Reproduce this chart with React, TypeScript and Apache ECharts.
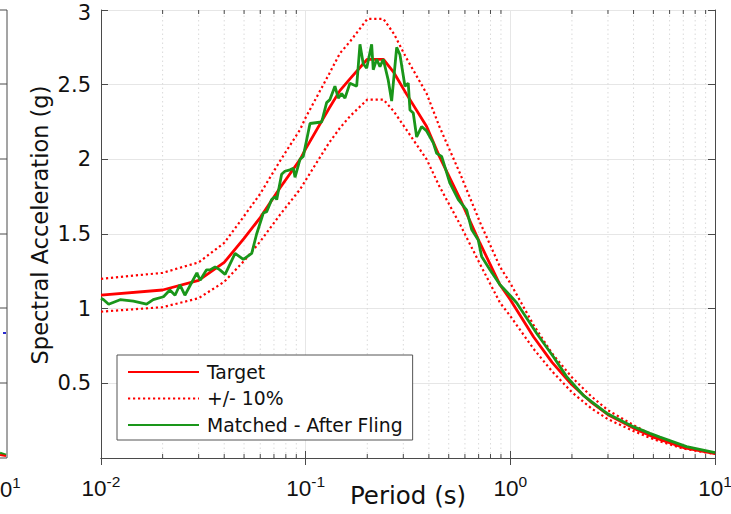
import React, { useEffect, useRef } from 'react';
import * as echarts from 'echarts';

// Target spectrum (period s, spectral acceleration g)
const targetPeriods = [0.01, 0.02, 0.03, 0.04, 0.05, 0.06, 0.075, 0.094, 0.1, 0.13, 0.147, 0.165, 0.2, 0.24, 0.27, 0.31, 0.39, 0.45, 0.57, 0.71, 0.89, 1.0, 1.3, 1.6, 2.0, 2.5, 3.0, 4.0, 5.0, 7.0, 10.0];
const targetValues = [1.09, 1.125, 1.19, 1.31, 1.47, 1.61, 1.81, 2.0, 2.07, 2.34, 2.46, 2.54, 2.67, 2.67, 2.58, 2.44, 2.22, 2.02, 1.73, 1.44, 1.16, 1.06, 0.81, 0.64, 0.49, 0.37, 0.29, 0.2, 0.14, 0.07, 0.03];
const upperValues = [1.2, 1.24, 1.31, 1.44, 1.62, 1.77, 1.99, 2.2, 2.28, 2.57, 2.71, 2.79, 2.94, 2.94, 2.84, 2.68, 2.44, 2.22, 1.9, 1.58, 1.28, 1.17, 0.89, 0.7, 0.54, 0.41, 0.32, 0.22, 0.15, 0.077, 0.033];
const lowerValues = [0.98, 1.01, 1.07, 1.18, 1.32, 1.45, 1.63, 1.8, 1.86, 2.11, 2.21, 2.29, 2.4, 2.4, 2.32, 2.2, 2.0, 1.82, 1.56, 1.3, 1.04, 0.95, 0.73, 0.58, 0.44, 0.33, 0.26, 0.18, 0.126, 0.063, 0.027];

// Matched - After Fling
const matchedPeriods = [0.01, 0.0103, 0.0109, 0.0124, 0.0144, 0.0167, 0.018, 0.0202, 0.0217, 0.023, 0.0243, 0.0257, 0.0294, 0.0305, 0.0328, 0.0341, 0.0361, 0.0381, 0.0404, 0.0452, 0.0496, 0.0545, 0.0576, 0.0621, 0.0645, 0.0682, 0.0708, 0.0722, 0.0763, 0.0792, 0.0838, 0.087, 0.0887, 0.0938, 0.0973, 0.1011, 0.105, 0.1197, 0.1266, 0.1314, 0.139, 0.1443, 0.1499, 0.1556, 0.1646, 0.1775, 0.1842, 0.1911, 0.1986, 0.2101, 0.2139, 0.2223, 0.2307, 0.2394, 0.2532, 0.2631, 0.2784, 0.2889, 0.3056, 0.3171, 0.3233, 0.3355, 0.3486, 0.3687, 0.39, 0.4202, 0.4365, 0.4617, 0.507, 0.557, 0.612, 0.647, 0.697, 0.724, 0.795, 0.89, 0.995, 1.073, 1.344, 1.62, 1.884, 2.271, 2.955, 3.985, 4.808, 5.38, 7.265, 10.0];
const matchedValues = [1.07, 1.06, 1.03, 1.06, 1.05, 1.03, 1.06, 1.08, 1.125, 1.09, 1.16, 1.09, 1.24, 1.19, 1.26, 1.26, 1.28, 1.26, 1.23, 1.37, 1.33, 1.37, 1.5, 1.64, 1.65, 1.73, 1.75, 1.73, 1.9, 1.92, 1.93, 1.94, 1.88, 2.0, 2.02, 2.13, 2.24, 2.25, 2.38, 2.4, 2.49, 2.41, 2.44, 2.41, 2.51, 2.49, 2.77, 2.64, 2.61, 2.77, 2.6, 2.67, 2.62, 2.67, 2.53, 2.39, 2.75, 2.7, 2.49, 2.51, 2.33, 2.31, 2.15, 2.22, 2.19, 2.11, 2.04, 2.02, 1.84, 1.73, 1.66, 1.53, 1.46, 1.35, 1.26, 1.16, 1.09, 1.04, 0.835, 0.68, 0.545, 0.42, 0.3, 0.21, 0.165, 0.14, 0.076, 0.036];

const minorPeriods = [0.02, 0.03, 0.04, 0.05, 0.06, 0.07, 0.08, 0.09, 0.2, 0.3, 0.4, 0.5, 0.6, 0.7, 0.8, 0.9, 2, 3, 4, 5, 6, 7, 8, 9];
const yTickValues = [0, 0.5, 1, 1.5, 2, 2.5, 3];
const xDecadeExponents = [-2, -1, 0, 1];

const FONT = '"Liberation Sans", Arial, Helvetica, sans-serif';
const WIDE = '"DejaVu Sans", Verdana, sans-serif';
const AXIS_COLOR = '#4a4a4a';
const GRID_COLOR = '#e6e6e6';

export default function App() {
  const ref = useRef<HTMLDivElement>(null);

  useEffect(() => {
    if (!ref.current) return;
    const chart = echarts.init(ref.current, null, { renderer: 'svg' });

    const xMin = Math.pow(10, xDecadeExponents[0]);
    const xMax = Math.pow(10, xDecadeExponents[xDecadeExponents.length - 1]);
    const yMin = yTickValues[0];
    const yMax = yTickValues[yTickValues.length - 1];

    const xLabelFormatter = (v: number) => {
      const e = Math.round(Math.log10(v));
      return `{b|10}{s|${e}}`;
    };

    // Left neighbour panel fragment (cropped)
    const leftPanel: any[] = [
      { type: 'line', shape: { x1: 7, y1: 10, x2: 7, y2: 458 }, style: { stroke: AXIS_COLOR, lineWidth: 1 } },
      { type: 'line', shape: { x1: 0, y1: 10, x2: 7, y2: 10 }, style: { stroke: AXIS_COLOR, lineWidth: 1 } },
      { type: 'line', shape: { x1: 0, y1: 458, x2: 7, y2: 458 }, style: { stroke: AXIS_COLOR, lineWidth: 1 } },
      ...[84, 159, 234, 308, 383].map((y) => ({
        type: 'line', shape: { x1: 0, y1: y, x2: 7, y2: y }, style: { stroke: AXIS_COLOR, lineWidth: 1 },
      })),
      { type: 'rect', shape: { x: 3, y: 332, width: 3, height: 2 }, style: { fill: '#2a2ad0' } },
      { type: 'line', shape: { x1: 0, y1: 453, x2: 6, y2: 455 }, style: { stroke: '#1a961a', lineWidth: 2.5 } },
      { type: 'line', shape: { x1: 0, y1: 455, x2: 6, y2: 456 }, style: { stroke: '#ff0000', lineWidth: 2 } },
      {
        type: 'text', x: 0, y: 489,
        style: {
          text: '{b|0}{s|1}', textAlign: 'left', textVerticalAlign: 'middle',
          rich: {
            b: { fontSize: 22, fontFamily: FONT, fill: '#111' },
            s: { fontSize: 15, fontFamily: FONT, fill: '#111', padding: [0, 0, 14, 0] },
          },
        },
      },
    ];

    const option: any = {
      animation: false,
      backgroundColor: '#ffffff',
      grid: { left: 101, right: 16, top: 10, bottom: 56, containLabel: false, outerBoundsMode: 'none' },
      xAxis: [
        {
          type: 'log', logBase: 10, min: xMin, max: xMax,
          name: 'Period (s)', nameLocation: 'middle', nameGap: 24, nameMoveOverlap: false,
          nameTextStyle: { fontSize: 24.5, fontFamily: WIDE, color: '#111', lineHeight: 26 },
          axisLine: { show: true, lineStyle: { color: AXIS_COLOR, width: 1 } },
          axisTick: { show: true, inside: true, length: 7, lineStyle: { color: AXIS_COLOR } },
          axisLabel: {
            margin: 15, formatter: xLabelFormatter,
            rich: {
              b: { fontSize: 22.5, fontFamily: FONT, color: '#111' },
              s: { fontSize: 15.5, fontFamily: FONT, color: '#111', padding: [0, 0, 14, 0] },
            },
          },
          splitLine: { show: true, lineStyle: { color: GRID_COLOR, width: 1 } },
        },
        {
          type: 'log', logBase: 10, min: xMin, max: xMax, position: 'top',
          axisLine: { show: true, lineStyle: { color: AXIS_COLOR, width: 1 } },
          axisTick: { show: true, inside: true, length: 7, lineStyle: { color: AXIS_COLOR } },
          axisLabel: { show: false },
          splitLine: { show: false },
        },
      ],
      yAxis: [
        {
          type: 'value', min: yMin, max: yMax, interval: 0.5,
          axisLine: { show: true, lineStyle: { color: AXIS_COLOR, width: 1 } },
          axisTick: { show: true, inside: true, length: 7, lineStyle: { color: AXIS_COLOR } },
          axisLabel: {
            margin: 10, fontSize: 21, fontFamily: WIDE, color: '#111', lineHeight: 16,
            formatter: (v: number) => (v === 0 ? '' : v === yMax ? `{t|${v}}` : String(v)),
            rich: {
              t: { fontSize: 21, fontFamily: WIDE, color: '#111', lineHeight: 16, padding: [5, 0, 0, 0] },
            },
          },
          splitLine: { show: true, lineStyle: { color: GRID_COLOR, width: 1 } },
        },
        {
          type: 'value', min: yMin, max: yMax, interval: 0.5, position: 'right',
          axisLine: { show: true, lineStyle: { color: AXIS_COLOR, width: 1 } },
          axisTick: { show: true, inside: true, length: 7, lineStyle: { color: AXIS_COLOR } },
          axisLabel: { show: false },
          splitLine: { show: false },
        },
      ],
      legend: {
        data: ['Target', '+/- 10%', 'Matched - After Fling'],
        orient: 'vertical', left: 117, top: 355,
        itemWidth: 71, itemHeight: 12, itemGap: 6.5,
        padding: [7, 10, 5, 10],
        backgroundColor: '#ffffff',
        borderColor: '#555555', borderWidth: 1, borderRadius: 0,
        itemStyle: { color: 'rgba(0,0,0,0)', borderColor: 'rgba(0,0,0,0)', borderWidth: 0, opacity: 0 },
        textStyle: { fontSize: 18.8, fontFamily: WIDE, color: '#111', lineHeight: 20, padding: [0, 0, 0, 3] },
        selectedMode: false,
      },
      graphic: [
        {
          type: 'text', x: 40, y: 225, rotation: Math.PI / 2,
          style: {
            text: 'Spectral Acceleration (g)', fontSize: 22.5, fontFamily: WIDE, fill: '#111',
            textAlign: 'center', textVerticalAlign: 'middle',
          },
        },
        ...leftPanel,
      ],
      series: [
        {
          type: 'custom', name: 'minor', silent: true, z: 1,
          xAxisIndex: 0, yAxisIndex: 0,
          data: minorPeriods.map((p) => [p, yMin]),
          encode: { x: 0, y: 1 },
          renderItem: (params: any, api: any) => {
            const x = api.value(0);
            const p0 = api.coord([x, yMin]);
            const p1 = api.coord([x, yMax]);
            return {
              type: 'group',
              children: [
                { type: 'line', shape: { x1: p0[0], y1: p0[1], x2: p1[0], y2: p1[1] }, style: { stroke: '#dadada', lineWidth: 1, lineDash: [1.5, 3] } },
                { type: 'line', shape: { x1: p0[0], y1: p0[1], x2: p0[0], y2: p0[1] - 4 }, style: { stroke: AXIS_COLOR, lineWidth: 1 } },
                { type: 'line', shape: { x1: p1[0], y1: p1[1], x2: p1[0], y2: p1[1] + 4 }, style: { stroke: AXIS_COLOR, lineWidth: 1 } },
              ],
            };
          },
        },
        {
          type: 'line', name: 'Target', symbol: 'none', showSymbol: false,
          data: targetPeriods.map((t, i) => [t, targetValues[i]]),
          lineStyle: { color: '#ff0000', width: 2.8 }, itemStyle: { color: '#ff0000' }, z: 3,
        },
        {
          type: 'line', name: '+/- 10%', symbol: 'none', showSymbol: false,
          data: targetPeriods.map((t, i) => [t, upperValues[i]]),
          lineStyle: { color: '#ff0000', width: 2.2, type: [2.2, 2.8] }, itemStyle: { color: '#ff0000' }, z: 3,
        },
        {
          type: 'line', name: '+/- 10%', symbol: 'none', showSymbol: false,
          data: targetPeriods.map((t, i) => [t, lowerValues[i]]),
          lineStyle: { color: '#ff0000', width: 2.2, type: [2.2, 2.8] }, itemStyle: { color: '#ff0000' }, z: 3,
        },
        {
          type: 'line', name: 'Matched - After Fling', symbol: 'none', showSymbol: false,
          data: matchedPeriods.map((t, i) => [t, matchedValues[i]]),
          lineStyle: { color: '#1a961a', width: 2.8 }, itemStyle: { color: '#1a961a' }, z: 4,
        },
      ],
    };

    chart.setOption(option);
    return () => chart.dispose();
  }, []);

  return (
    <div
      ref={ref}
      style={{ position: 'fixed', left: 0, top: 0, width: 731, height: 514, background: '#fff' }}
    />
  );
}
